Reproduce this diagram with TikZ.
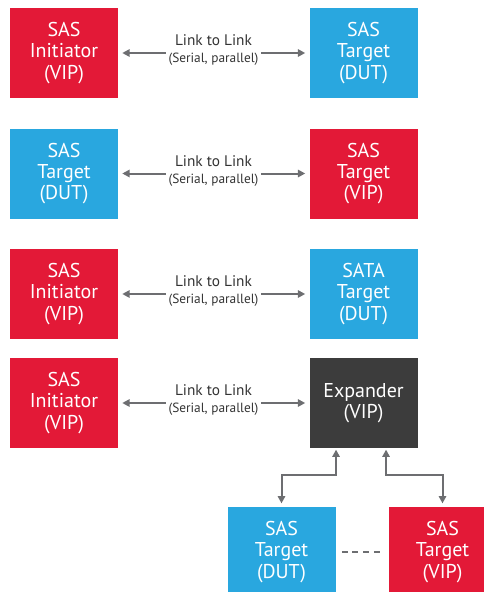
\documentclass[tikz,border=0pt]{standalone}
\usepackage{fontspec}
\setmainfont{PT Sans}
\usetikzlibrary{arrows.meta}
\definecolor{sasred}{HTML}{E31937}
\definecolor{sasblue}{HTML}{29A7DF}
\definecolor{sasdark}{HTML}{3C3C3C}
\definecolor{linkgray}{HTML}{6D6E71}
\begin{document}
\begin{tikzpicture}[x=0.75pt, y=-0.75pt]

\tikzstyle{box1}=[rectangle, inner sep=0pt, minimum width=81pt, minimum height=67.5pt, text=white, align=center, font=\fontsize{15}{16}\selectfont]
\tikzstyle{vip}=[box1, fill=sasred]
\tikzstyle{dut}=[box1, fill=sasblue]
\tikzstyle{exp}=[box1, fill=sasdark]
\tikzstyle{linklabel}=[inner sep=2pt, align=center, text=black!80, font=\fontsize{11.5}{13}\selectfont]
\tikzstyle{arrow}=[-{Triangle[length=5.5pt,width=5.5pt]}, draw=linkgray, line width=1.5pt, shorten >=3pt]
\tikzstyle{biarrow}=[{Triangle[length=5.5pt,width=5.5pt]}-{Triangle[length=5.5pt,width=5.5pt]}, draw=linkgray, line width=1.5pt, shorten >=2.5pt, shorten <=1pt]

\useasboundingbox (0,0) rectangle (483,592);

% row 1
\node (A1) [vip] at (64,53)    {SAS\\Initiator\\(VIP)};
\node (B1) [dut] at (363.5,53) {SAS\\Target\\(DUT)};
\node (L1) [linklabel, yshift=2pt] at (213.5,53) {Link to Link\\{\fontsize{10}{11}\selectfont(Serial, parallel)}};
\draw [arrow] (L1.west |- A1) -- (A1);
\draw [arrow] (L1.east |- B1) -- (B1);

% row 2
\node (A2) [dut] at (64,173.5)    {SAS\\Target\\(DUT)};
\node (B2) [vip] at (363.5,173.5) {SAS\\Target\\(VIP)};
\node (L2) [linklabel, yshift=2pt] at (213.5,173.5) {Link to Link\\{\fontsize{10}{11}\selectfont(Serial, parallel)}};
\draw [arrow] (L2.west |- A2) -- (A2);
\draw [arrow] (L2.east |- B2) -- (B2);

% row 3
\node (A3) [vip] at (64,294)    {SAS\\Initiator\\(VIP)};
\node (B3) [dut] at (363.5,294) {SATA\\Target\\(DUT)};
\node (L3) [linklabel, yshift=2pt] at (213.5,294) {Link to Link\\{\fontsize{10}{11}\selectfont(Serial, parallel)}};
\draw [arrow] (L3.west |- A3) -- (A3);
\draw [arrow] (L3.east |- B3) -- (B3);

% row 4 with expander
\node (A4) [vip] at (64,403)    {SAS\\Initiator\\(VIP)};
\node (E)  [exp] at (363.5,403) {Expander\\(VIP)};
\node (L4) [linklabel, yshift=2pt] at (213.5,403) {Link to Link\\{\fontsize{10}{11}\selectfont(Serial, parallel)}};
\draw [arrow] (L4.west |- A4) -- (A4);
\draw [arrow] (L4.east |- E) -- (E);

% targets behind the expander
\node (T1) [dut] at (281.5,552) {SAS\\Target\\(DUT)};
\node (T2) [vip] at (442.5,552) {SAS\\Target\\(VIP)};
\draw [biarrow] ([xshift=-20.6pt]E.south) -- ++(0,27) -| (T1.north);
\draw [biarrow] ([xshift=16.9pt]E.south) -- ++(0,27) -| (T2.north);
\draw [linkgray, line width=1pt, dash pattern=on 4.5pt off 3.5pt, shorten >=4pt, shorten <=4.5pt] (T1) -- (T2);

\end{tikzpicture}
\end{document}
